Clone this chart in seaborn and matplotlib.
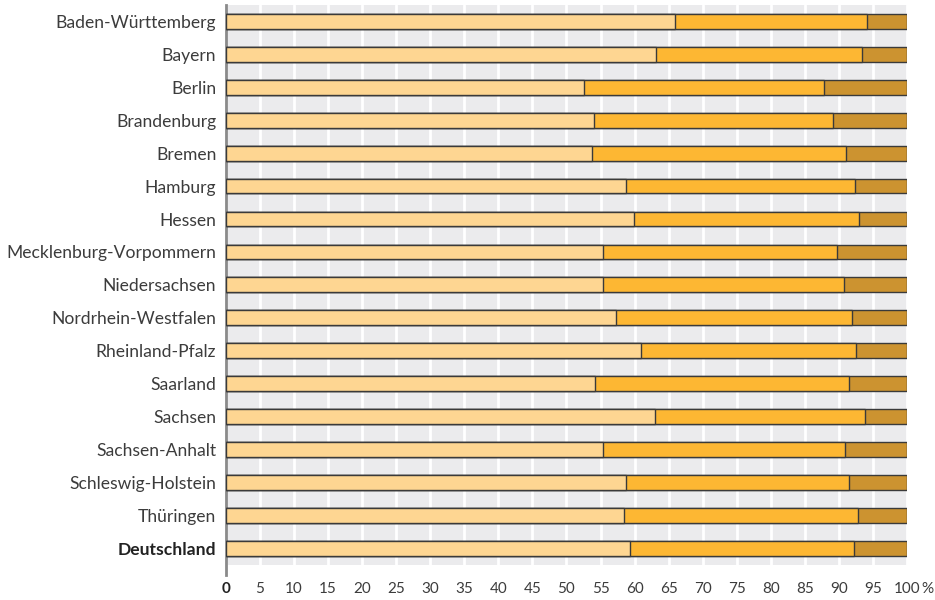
import pandas as pd
import matplotlib.pyplot as plt
import seaborn as sns

# --- Data ---
laender = ['Baden-Württemberg', 'Bayern', 'Berlin', 'Brandenburg', 'Bremen', 'Hamburg',
           'Hessen', 'Mecklenburg-Vorpommern', 'Niedersachsen', 'Nordrhein-Westfalen',
           'Rheinland-Pfalz', 'Saarland', 'Sachsen', 'Sachsen-Anhalt', 'Schleswig-Holstein',
           'Thüringen', 'Deutschland']
teil1 = [66.0, 63.2, 52.6, 54.1, 53.7, 58.8, 59.9, 55.4, 55.4, 57.3,
         61.0, 54.2, 63.0, 55.4, 58.7, 58.5, 59.3]
teil2 = [28.2, 30.2, 35.2, 35.0, 37.4, 33.5, 33.0, 34.4, 35.3, 34.6,
         31.5, 37.3, 30.8, 35.5, 32.8, 34.3, 32.9]
teil3 = [round(100 - a - b, 1) for a, b in zip(teil1, teil2)]
xticks = list(range(0, 101, 5))

df = pd.DataFrame({'land': laender, 'a': teil1, 'b': teil2, 'c': teil3})
df['cum1'] = df['a']
df['cum2'] = df['a'] + df['b']
df['cum3'] = df['a'] + df['b'] + df['c']

# --- Plot ---
sns.set_style("white")
plt.rcParams['font.family'] = ['Lato', 'DejaVu Sans']
fig, ax = plt.subplots(figsize=(9.35, 6.0), dpi=100)
fig.subplots_adjust(left=0.2417, right=0.970, top=0.992, bottom=0.0583)
ax.set_facecolor('#ebebed')

edge = '#3a3a3a'
sns.barplot(data=df, x='cum3', y='land', color='#cc9330', width=0.45, edgecolor=edge,
            linewidth=1, saturation=1, ax=ax, zorder=3)
sns.barplot(data=df, x='cum2', y='land', color='#fdb733', width=0.45, edgecolor=edge,
            linewidth=1, saturation=1, ax=ax, zorder=3)
sns.barplot(data=df, x='cum1', y='land', color='#fed692', width=0.45, edgecolor=edge,
            linewidth=1, saturation=1, ax=ax, zorder=3)

ax.set_xlim(0, 100)
ax.set_ylim(len(laender) - 0.5, -0.5)
ax.set_xticks(xticks)
ax.set_xticklabels([str(t) for t in xticks])
ax.xaxis.grid(True, color='white', linewidth=2)
ax.yaxis.grid(False)
ax.set_axisbelow(True)
for s in ['top', 'right', 'bottom']:
    ax.spines[s].set_visible(False)
ax.spines['left'].set_color('#8a8a8a')
ax.spines['left'].set_linewidth(2)
ax.spines['left'].set_bounds(len(laender) - 0.2, -0.5)

ax.tick_params(axis='x', length=8, width=2, color='#d2d2d2', pad=4, labelsize=11,
               labelcolor='#3c3c3c')
ax.tick_params(axis='y', length=0, pad=7, labelsize=12.6, labelcolor='#3c3c3c')
ax.set_xlabel('')
ax.set_ylabel('')

# unit sign right of the last tick label
ax.annotate('%', xy=(100, 0), xycoords=('data', 'axes fraction'), xytext=(10.5, -12),
            textcoords='offset points', ha='left', va='top', fontsize=11, color='#3c3c3c')

lbl0 = ax.get_xticklabels()[0]
lbl0.set_fontweight('bold')
lbl0.set_color('#222222')
ax.get_yticklabels()[-1].set_fontweight('bold')
ax.get_yticklabels()[-1].set_color('#222222')
ax.xaxis.get_major_ticks()[0].tick1line.set_color('#8a8a8a')

plt.savefig('out.png', dpi=100)
